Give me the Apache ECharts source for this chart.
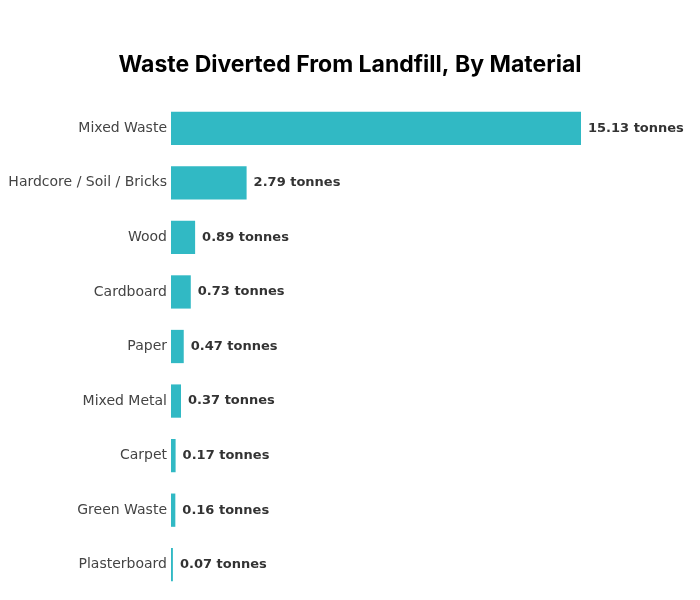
<!DOCTYPE html>
<html>
<head>
<meta charset="utf-8">
<script src="https://cdn.jsdelivr.net/npm/echarts@6/dist/echarts.min.js"></script>
<style>
  html, body { margin: 0; padding: 0; background: #fff; }
  #main { width: 700px; height: 600px; }
</style>
</head>
<body>
<div id="main"></div>
<script>
var materials = ['Mixed Waste', 'Hardcore / Soil / Bricks', 'Wood', 'Cardboard', 'Paper', 'Mixed Metal', 'Carpet', 'Green Waste', 'Plasterboard'];
var tonnes = [15.13, 2.79, 0.89, 0.73, 0.47, 0.37, 0.17, 0.16, 0.07];

var myChart = echarts.init(document.getElementById('main'));

var option = {
  backgroundColor: '#fff',
  title: {
    text: 'Waste Diverted From Landfill, By Material',
    left: 'center',
    top: 49,
    textStyle: {
      fontFamily: 'Inter',
      fontSize: 23,
      fontWeight: 'bold',
      color: '#000'
    }
  },
  grid: {
    left: 171,
    right: 119,
    top: 101,
    bottom: 8
  },
  xAxis: {
    type: 'value',
    min: 0,
    max: 'dataMax',
    show: false
  },
  yAxis: {
    type: 'category',
    inverse: true,
    data: materials,
    axisLine: { show: false },
    axisTick: { show: false },
    axisLabel: {
      margin: 4,
      fontFamily: 'DejaVu Sans',
      fontSize: 14,
      color: '#444'
    }
  },
  series: [
    {
      type: 'bar',
      data: tonnes,
      barWidth: '61%',
      itemStyle: { color: '#31b9c4' },
      label: {
        show: true,
        position: 'right',
        distance: 7,
        fontFamily: 'DejaVu Sans',
        fontSize: 13,
        fontWeight: 'bold',
        color: '#333',
        formatter: function (p) { return p.value.toFixed(2) + ' tonnes'; }
      }
    }
  ]
};

myChart.setOption(option);
</script>
</body>
</html>
